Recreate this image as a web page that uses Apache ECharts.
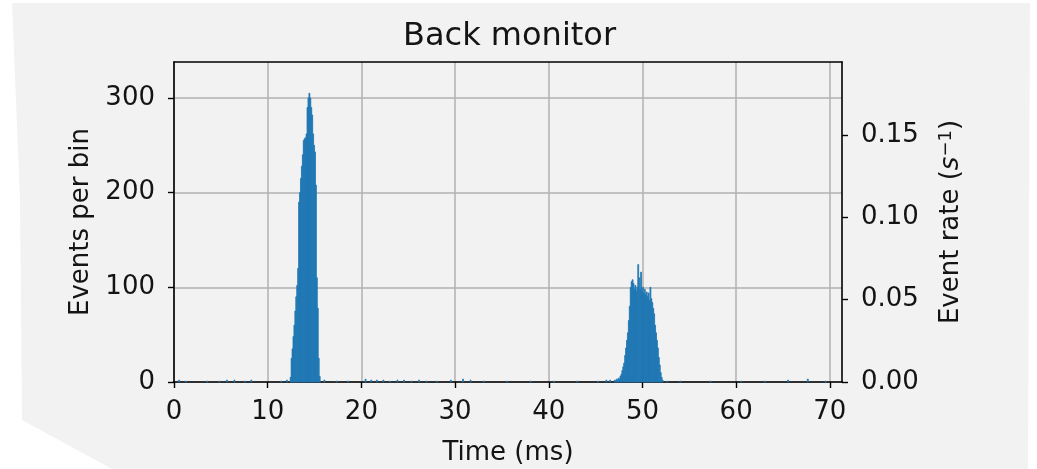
<!DOCTYPE html>
<html>
<head>
<meta charset="utf-8">
<script src="https://cdn.jsdelivr.net/npm/echarts@6/dist/echarts.min.js"></script>
<style>
html,body{margin:0;padding:0;background:#ffffff;}
#c{width:1037px;height:469px;}
</style>
</head>
<body>
<div id="c"></div>
<script>
// ---- data ----
var binWidth = 0.1; // ms
var xTicks = [0, 10, 20, 30, 40, 50, 60, 70];
var yTicksLeft = [0, 100, 200, 300];
var yTicksRight = [0, 0.05, 0.10, 0.15];

var peak1Start = 12.4;
var peak1Counts = [5, 25, 35, 48, 60, 75, 90, 102, 120, 190, 200, 215, 228, 240, 255, 257,
                   258, 262, 290, 300, 305, 300, 290, 282, 262, 250, 243, 208, 110, 78, 25, 6];

var peak2Start = 47.0;
var peak2Counts = [2, 1, 3, 2, 4, 3, 6, 8, 12, 16, 20, 28, 36, 44, 52, 65, 80, 100, 106, 108,
                   104, 98, 102, 96, 100, 124, 110, 98, 116, 95, 100, 94, 98, 92, 95, 90, 94, 86,
                   100, 88, 84, 78, 72, 60, 52, 44, 36, 26, 18, 10, 5, 2];

var noiseTimes  = [0.5, 1.2, 3.5, 4.8, 5.6, 6.4, 7.5, 8.2, 11.4, 12.0, 16.0, 17.3, 18.5, 20.4, 21.0,
                   21.6, 22.3, 23.0, 23.8, 24.5, 25.3, 26.1, 26.9, 28.0, 29.5, 30.8, 31.6, 33.0,
                   35.5, 38.0, 40.5, 43.0, 45.2, 46.1, 46.5, 52.6, 54.0, 57.2, 60.5, 63.0, 65.5,
                   67.6, 69.5];
var noiseCounts = [2, 1, 1, 1, 2, 2, 1, 2, 1, 2, 2, 1, 1, 3, 2,
                   2, 2, 1, 2, 2, 1, 2, 1, 1, 2, 3, 2, 1,
                   1, 1, 1, 1, 1, 2, 2, 1, 1, 1, 1, 1, 2,
                   3, 1];

var countsToRate = 1 / 1739; // right axis scale factor (events per bin -> s^-1)

// ---- build histogram bins ----
var bins = [];
peak1Counts.forEach(function (c, i) { bins.push([+(peak1Start + i * binWidth).toFixed(2), c]); });
peak2Counts.forEach(function (c, i) { bins.push([+(peak2Start + i * binWidth).toFixed(2), c]); });
noiseTimes.forEach(function (t, i) { bins.push([t, noiseCounts[i]]); });

var FONT = 'DejaVu Sans';
var TXT = '#141414';
var yMaxLeft = 338;
var xMax = 71.3;

var chart = echarts.init(document.getElementById('c'), null, {renderer: 'canvas'});
var option = {
  animation: false,
  backgroundColor: 'transparent',
  textStyle: {fontFamily: FONT},
  graphic: [{
    type: 'polygon', z: -10, silent: true,
    shape: {points: [[12, 3], [1030, 3], [1028, 469], [112, 469], [22, 420], [20, 200]]},
    style: {fill: '#f2f2f2'}
  }],
  title: {
    text: 'Back monitor',
    left: 403, top: 21, padding: 0,
    textStyle: {fontFamily: FONT, fontSize: 32, fontWeight: 'normal', color: TXT}
  },
  grid: {left: 174, right: 195, top: 62, bottom: 87, containLabel: false, outerBoundsMode: 'none'},
  xAxis: [{
    type: 'value', min: 0, max: xMax, interval: 10, position: 'bottom',
    name: 'Time (ms)', nameLocation: 'middle', nameGap: 58,
    nameTextStyle: {fontFamily: FONT, fontSize: 26, color: TXT},
    axisLine: {show: true, onZero: false, lineStyle: {color: '#000', width: 1.6}},
    axisTick: {show: true, inside: false, length: 6, customValues: xTicks, lineStyle: {color: '#000', width: 1.4}},
    axisLabel: {customValues: xTicks, margin: 17, fontFamily: FONT, fontSize: 26, color: TXT},
    splitLine: {show: true, lineStyle: {color: '#b0b0b0', width: 1.5}}
  }, {
    type: 'value', min: 0, max: xMax, position: 'top',
    axisLine: {show: true, onZero: false, lineStyle: {color: '#000', width: 1.6}},
    axisTick: {show: false}, axisLabel: {show: false}, splitLine: {show: false}
  }],
  yAxis: [{
    type: 'value', min: 0, max: yMaxLeft, interval: 100, position: 'left',
    name: 'Events per bin', nameLocation: 'middle', nameGap: 79, nameRotate: 90,
    nameTextStyle: {fontFamily: FONT, fontSize: 26, color: TXT},
    axisLine: {show: true, onZero: false, lineStyle: {color: '#000', width: 1.6}},
    axisTick: {show: true, length: 6, customValues: yTicksLeft, lineStyle: {color: '#000', width: 1.4}},
    axisLabel: {customValues: yTicksLeft, margin: 19, fontFamily: FONT, fontSize: 26, color: TXT},
    splitLine: {show: true, lineStyle: {color: '#b0b0b0', width: 1.5}}
  }, {
    type: 'value', min: 0, max: yMaxLeft * countsToRate, interval: 0.05, position: 'right',
    name: 'Event rate ({it|s}{sup|−1})', nameLocation: 'middle', nameGap: 95, nameRotate: 90,
    nameTextStyle: {fontFamily: FONT, fontSize: 26, color: TXT,
      rich: {
        it: {fontFamily: FONT, fontSize: 26, fontStyle: 'italic', color: TXT},
        sup: {fontFamily: FONT, fontSize: 18, color: TXT, verticalAlign: 'top', padding: [0, 0, 10, 0]}
      }},
    axisLine: {show: true, onZero: false, lineStyle: {color: '#000', width: 1.6}},
    axisTick: {show: true, length: 6, customValues: yTicksRight, lineStyle: {color: '#000', width: 1.4}},
    axisLabel: {customValues: yTicksRight, margin: 19, fontFamily: FONT, fontSize: 26, color: TXT,
      formatter: function (v) { return v.toFixed(2); }},
    splitLine: {show: false}
  }],
  series: [{
    type: 'custom',
    xAxisIndex: 0, yAxisIndex: 0,
    data: bins,
    renderItem: function (params, api) {
      var x0 = api.value(0), c = api.value(1);
      var p0 = api.coord([x0, c]);
      var p1 = api.coord([x0 + binWidth, 0]);
      return {
        type: 'rect',
        shape: {x: p0[0], y: p0[1], width: Math.max(p1[0] - p0[0], 0.5), height: p1[1] - p0[1]},
        style: {fill: '#1f77b4', stroke: '#1f77b4', lineWidth: 0.8}
      };
    },
    z: 5
  }]
};
chart.setOption(option);
</script>
</body>
</html>
